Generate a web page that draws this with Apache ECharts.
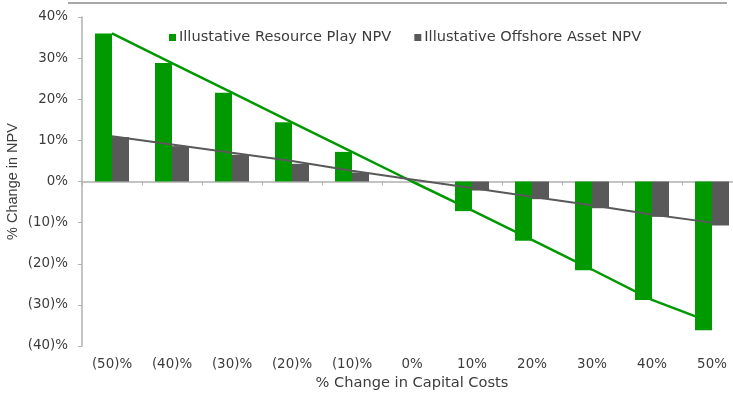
<!DOCTYPE html>
<html>
<head>
<meta charset="utf-8">
<script src="https://cdn.jsdelivr.net/npm/echarts@6/dist/echarts.min.js"></script>
<style>
  html, body { margin: 0; padding: 0; background: #ffffff; overflow: hidden; }
  #chart { width: 733px; height: 394px; }
</style>
</head>
<body>
<div id="chart"></div>
<script>
// Capital cost sensitivity: change in NPV for two illustrative asset types
const categories = ['(50)%', '(40)%', '(30)%', '(20)%', '(10)%', '0%', '10%', '20%', '30%', '40%', '50%'];
const resourcePlay = [36, 28.8, 21.6, 14.4, 7.2, 0, -7.2, -14.4, -21.6, -28.8, -36.2];
const offshoreAsset = [10.8, 8.6, 6.5, 4.3, 2.2, 0, -2.2, -4.3, -6.5, -8.6, -10.7];
const resourceTrend = [36, 28.8, 21.6, 14.4, 7.2, 0, -7.0, -14.2, -21.4, -28.8, -34.3];
const offshoreTrend = [11, 9, 7, 5, 2.6, 0.5, -1.6, -3.7, -5.8, -8.0, -10.0];
const yTicks = [-40, -30, -20, -10, 0, 10, 20, 30, 40];

const GREEN = '#009a00';
const GREY = '#595959';
const TEXT = '#3c3c3c';
const FONT = '"DejaVu Sans", Arial, sans-serif';
const FONT_V = '"Liberation Sans", Arial, sans-serif';
const FS = 14.6;      // legend and axis titles
const FS_TICK = 13.4; // tick labels

function pct(v) {
  return v < 0 ? '(' + Math.abs(v) + ')%' : v + '%';
}

const chart = echarts.init(document.getElementById('chart'));
chart.setOption({
  animation: false,
  backgroundColor: '#ffffff',
  textStyle: { fontFamily: FONT },
  graphic: [{
    type: 'line',
    shape: { x1: 68, y1: 3, x2: 727, y2: 3 },
    style: { stroke: '#a8a8a8', lineWidth: 2 }
  }],
  legend: {
    left: 164,
    top: 25,
    itemWidth: 7,
    itemHeight: 7,
    itemGap: 23,
    icon: 'rect',
    textStyle: { color: TEXT, fontSize: FS, fontFamily: FONT, padding: [0, 0, 0, -2] },
    data: ['Illustative Resource Play NPV', 'Illustative Offshore Asset NPV']
  },
  // plot area runs slightly past the right edge of the canvas
  grid: { left: 82, top: 17, width: 660, height: 329, containLabel: false, outerBoundsMode: 'none' },
  xAxis: [{
    type: 'category',
    data: categories,
    axisLine: { onZero: true, lineStyle: { color: '#b0b0b0', width: 1.5 } },
    axisTick: { show: true, length: 4, inside: false, lineStyle: { color: '#b0b0b0' } },
    axisLabel: { show: false }
  }, {
    type: 'category',
    data: categories,
    position: 'bottom',
    axisLine: { show: false },
    axisTick: { show: false },
    axisLabel: { color: TEXT, fontSize: FS_TICK, margin: 12, fontFamily: FONT },
    name: '% Change in Capital Costs',
    nameLocation: 'middle',
    nameGap: 30,
    nameMoveOverlap: false,
    nameTextStyle: { color: TEXT, fontSize: FS, fontFamily: FONT }
  }],
  yAxis: {
    type: 'value',
    min: -40,
    max: 40,
    interval: 10,
    axisLine: { show: true, lineStyle: { color: '#b0b0b0', width: 1.5 } },
    axisTick: { show: true, length: 4, lineStyle: { color: '#b0b0b0' } },
    splitLine: { show: false },
    axisLabel: {
      color: TEXT, fontSize: FS_TICK, margin: 14, fontFamily: FONT,
      formatter: function (v) { return yTicks.indexOf(v) >= 0 ? pct(v) : ''; }
    },
    name: '% Change in NPV',
    nameLocation: 'middle',
    nameGap: 62,
    nameMoveOverlap: false,
    nameRotate: 90,
    nameTextStyle: { color: TEXT, fontSize: 14.5, fontFamily: FONT_V }
  },
  series: [{
    name: 'Illustative Resource Play NPV',
    type: 'bar',
    xAxisIndex: 0,
    data: resourcePlay,
    barWidth: 17,
    barGap: '0%',
    itemStyle: { color: GREEN }
  }, {
    name: 'Illustative Offshore Asset NPV',
    type: 'bar',
    xAxisIndex: 0,
    data: offshoreAsset,
    barWidth: 17,
    barGap: '0%',
    itemStyle: { color: GREY }
  }, {
    name: 'resource trend',
    type: 'line',
    xAxisIndex: 0,
    data: resourceTrend,
    symbol: 'none',
    z: 5,
    lineStyle: { color: GREEN, width: 2.5 },
    itemStyle: { color: GREEN }
  }, {
    name: 'offshore trend',
    type: 'line',
    xAxisIndex: 0,
    data: offshoreTrend,
    symbol: 'none',
    z: 5,
    lineStyle: { color: GREY, width: 2 },
    itemStyle: { color: GREY }
  }]
});
</script>
</body>
</html>
